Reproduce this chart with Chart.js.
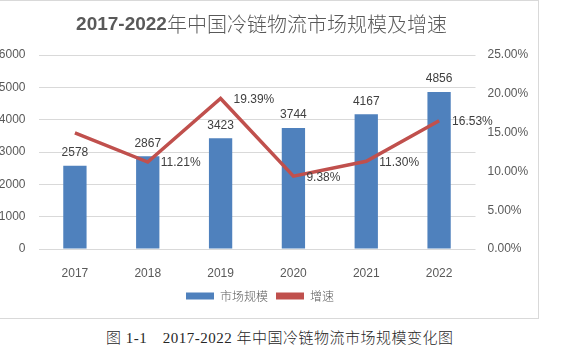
<!DOCTYPE html>
<html><head><meta charset="utf-8">
<script src="https://cdn.jsdelivr.net/npm/chart.js@4.4.0/dist/chart.umd.min.js"></script>
<style>
html,body{margin:0;padding:0;background:#fff;overflow:hidden;}
body{width:561px;height:353px;position:relative;}
#frame{position:absolute;left:-20px;top:0;width:559px;height:319px;border:1px solid #D9D9D9;box-sizing:border-box;}
#wrap{position:absolute;left:-20px;top:0;width:560px;height:320px;}
#cap{position:absolute;left:106px;top:328px;font-family:"Liberation Serif","Noto Sans CJK SC",serif;font-size:15px;font-weight:300;color:#262626;white-space:pre;letter-spacing:0.5px;line-height:20px;}
</style></head><body>
<div id="frame"></div>
<div id="wrap"><canvas id="c" width="560" height="320"></canvas></div>
<div id="cap">图 1-1　2017-2022 年中国冷链物流市场规模变化图</div>
<script>
const categories = ['2017','2018','2019','2020','2021','2022'];
const marketSize = [2578, 2867, 3423, 3744, 4167, 4856];
const growth = [14.95, 11.21, 19.39, 9.38, 11.30, 16.53];
const growthLabels = [null, '11.21%', '19.39%', '9.38%', '11.30%', '16.53%'];
const titleNum = '2017-2022';
const titleText = '年中国冷链物流市场规模及增速';
const seriesNames = ['市场规模', '增速'];

const labelPlugin = {
  id: 'labels',
  afterDatasetsDraw(chart) {
    const ctx = chart.ctx;
    ctx.save();
    ctx.font = '12px "Liberation Sans", Arial, sans-serif';
    ctx.fillStyle = '#404040';
    const barMeta = chart.getDatasetMeta(0);
    ctx.textAlign = 'center'; ctx.textBaseline = 'middle';
    barMeta.data.forEach((el, i) => {
      ctx.fillText(String(marketSize[i]), el.x, el.y - 13);
    });
    const lineMeta = chart.getDatasetMeta(1);
    ctx.textAlign = 'left';
    lineMeta.data.forEach((el, i) => {
      if (growthLabels[i]) ctx.fillText(growthLabels[i], el.x + 13, el.y + 1);
    });
    ctx.restore();
  },
  beforeDraw(chart) {
    const ctx = chart.ctx;
    ctx.save();
    ctx.fillStyle = '#595959';
    ctx.textBaseline = 'middle';
    const f1 = 'bold 19px "Liberation Sans", Arial, sans-serif';
    const f2 = '300 20px "Noto Sans CJK SC", sans-serif';
    ctx.font = f1;
    const w1 = ctx.measureText(titleNum).width;
    ctx.font = f2;
    const w2 = ctx.measureText(titleText).width;
    const cx = 281.5;
    const x = cx - (w1 + w2) / 2;
    ctx.textAlign = 'left';
    ctx.font = f1;
    ctx.fillText(titleNum, x, 25);
    ctx.font = f2;
    ctx.fillText(titleText, x + w1, 24.5);
    ctx.restore();
  }
};

new Chart(document.getElementById('c'), {
  type: 'bar',
  data: {
    labels: categories,
    datasets: [
      { type: 'bar', label: seriesNames[0], data: marketSize, backgroundColor: '#4F81BD',
        yAxisID: 'y', barPercentage: 0.32, categoryPercentage: 1, order: 1 },
      { type: 'line', label: seriesNames[1], data: growth, borderColor: '#C0504D', backgroundColor: '#C0504D',
        borderWidth: 3.5, pointRadius: 0, tension: 0, yAxisID: 'y1', order: 0 }
    ]
  },
  options: {
    responsive: false,
    animation: false,
    layout: { padding: { top: 55, left: 0, right: 0, bottom: 8 } },
    plugins: {
      title: { display: false },
      tooltip: { enabled: false },
      legend: {
        position: 'bottom',
        labels: {
          font: { size: 12, weight: '300', family: '"Noto Sans CJK SC", sans-serif' },
          color: '#595959',
          boxWidth: 28, boxHeight: 7, padding: 8,
          generateLabels(chart) {
            return chart.data.datasets.map((d, i) => ({
              text: d.label, fillStyle: d.backgroundColor, strokeStyle: d.backgroundColor,
              lineWidth: 0, datasetIndex: i, hidden: false, fontColor: '#595959'
            }));
          }
        }
      }
    },
    scales: {
      x: {
        grid: { display: false },
        border: { display: false },
        ticks: { color: '#595959', font: { size: 12, family: '"Liberation Sans", Arial, sans-serif' }, padding: 9 },
        afterFit(s) { s.height = 33; }
      },
      y: {
        position: 'left', min: 0, max: 6000,
        ticks: { stepSize: 1000, color: '#595959', padding: 13, font: { size: 12, family: '"Liberation Sans", Arial, sans-serif' },
          callback: v => String(v) },
        grid: { color: '#D9D9D9', lineWidth: 1, drawTicks: false },
        border: { display: false },
        afterFit(s) { s.width = 58.5; }
      },
      y1: {
        position: 'right', min: 0, max: 25,
        ticks: { stepSize: 5, color: '#595959', padding: 12, font: { size: 12, family: '"Liberation Sans", Arial, sans-serif' },
          callback: v => v.toFixed(2) + '%' },
        grid: { display: false, drawTicks: false },
        border: { display: false },
        afterFit(s) { s.width = 64.5; }
      }
    }
  },
  plugins: [labelPlugin]
});
</script>
</body></html>
